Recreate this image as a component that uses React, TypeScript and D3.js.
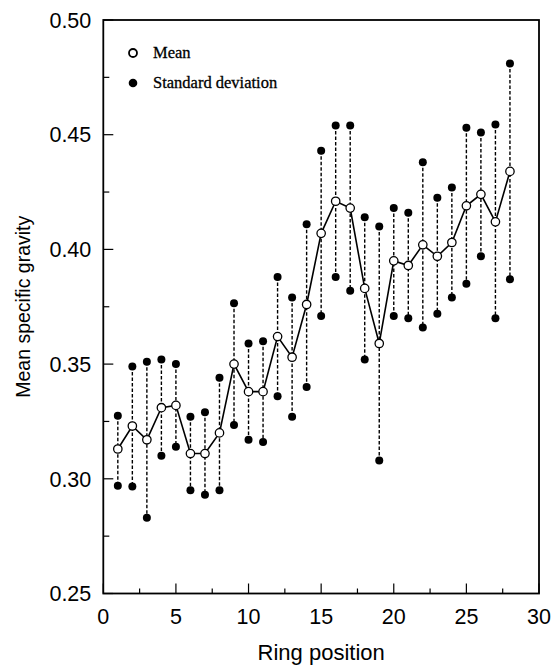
import React from "react";
import * as d3 from "d3";

const rings = [1,2,3,4,5,6,7,8,9,10,11,12,13,14,15,16,17,18,19,20,21,22,23,24,25,26,27,28];
const means = [0.313,0.323,0.317,0.331,0.332,0.311,0.311,0.320,0.350,0.338,0.338,0.362,0.353,0.376,0.407,0.421,0.418,0.383,0.359,0.395,0.393,0.402,0.397,0.403,0.419,0.424,0.412,0.434];
const uppers = [0.3275,0.349,0.351,0.352,0.350,0.327,0.329,0.344,0.3765,0.359,0.360,0.388,0.379,0.411,0.443,0.454,0.454,0.414,0.410,0.418,0.416,0.438,0.4225,0.427,0.453,0.451,0.4545,0.481];
const lowers = [0.297,0.2966,0.283,0.310,0.314,0.295,0.293,0.295,0.3235,0.317,0.316,0.336,0.327,0.340,0.371,0.388,0.382,0.352,0.308,0.371,0.370,0.366,0.372,0.379,0.385,0.397,0.370,0.387];
const yTicks = [0.25,0.30,0.35,0.40,0.45,0.50];
const xTicks = [0,5,10,15,20,25,30];

const W = 553, H = 666;
const left = 103.3, right = 539, top = 20, bottom = 593.5;

export default function App() {
  const x = d3.scaleLinear().domain([0, 30]).range([left, right]);
  const y = d3.scaleLinear().domain([0.25, 0.5]).range([bottom, top]);
  const line = d3.line<number>().x((_, i) => x(rings[i])).y((d) => y(d));
  const minorY = d3.range(0, 11).map((i) => 0.25 + i * 0.025);
  const minorX = d3.range(0, 13).map((i) => i * 2.5);
  const sans = "'Liberation Sans', Arial, Helvetica, sans-serif";
  const serif = "'Liberation Serif', 'Times New Roman', serif";
  return (
    <svg width={W} height={H} style={{ position: "absolute", left: 0, top: 0, background: "#fff" }}>
      <rect x={0} y={0} width={W} height={H} fill="#fff" />
      <rect x={left} y={top} width={right - left} height={bottom - top} fill="none" stroke="#000" strokeWidth={1.8} />
      {minorY.map((t, i) => {
        const major = i % 2 === 0;
        return <line key={"yt" + i} x1={left} x2={left + (major ? 10 : 6)} y1={y(t)} y2={y(t)} stroke="#000" strokeWidth={1.2} />;
      })}
      {minorX.map((t, i) => {
        const major = i % 2 === 0;
        return <line key={"xt" + i} x1={x(t)} x2={x(t)} y1={bottom} y2={bottom - (major ? 10 : 5)} stroke="#000" strokeWidth={1.2} />;
      })}
      {yTicks.map((t) => (
        <text key={"yl" + t} x={left - 12} y={y(t)} dy="0.36em" textAnchor="end" fontFamily={sans} fontSize={21.5} fill="#000">
          {t.toFixed(2)}
        </text>
      ))}
      {xTicks.map((t) => (
        <text key={"xl" + t} x={x(t)} y={623.5} textAnchor="middle" fontFamily={sans} fontSize={21.5} fill="#000">
          {t}
        </text>
      ))}
      <text x={x(15)} y={660} textAnchor="middle" fontFamily={sans} fontSize={22} fill="#000">Ring position</text>
      <text transform={`translate(30,${(top + bottom) / 2}) rotate(-90)`} x={0} y={0} textAnchor="middle" fontFamily={sans} fontSize={19.5} fill="#000">
        Mean specific gravity
      </text>
      {rings.map((r, i) => (
        <line key={"d" + r} x1={x(r)} x2={x(r)} y1={y(uppers[i])} y2={y(lowers[i])} stroke="#000" strokeWidth={1.4} strokeDasharray="3.5,2" />
      ))}
      <path d={line(means) || ""} fill="none" stroke="#000" strokeWidth={1.6} />
      {rings.map((r, i) => (
        <g key={"p" + r}>
          <circle cx={x(r)} cy={y(uppers[i])} r={4} fill="#000" />
          <circle cx={x(r)} cy={y(lowers[i])} r={4} fill="#000" />
          <circle cx={x(r)} cy={y(means[i])} r={4.2} fill="#fff" stroke="#000" strokeWidth={1.3} />
        </g>
      ))}
      <circle cx={133} cy={53} r={4} fill="#fff" stroke="#000" strokeWidth={1.8} />
      <circle cx={133} cy={83} r={4.3} fill="#000" />
      <text x={153} y={58} fontFamily={serif} fontSize={16.5} fill="#000" stroke="#000" strokeWidth={0.3}>Mean</text>
      <text x={153} y={88} fontFamily={serif} fontSize={16.5} fill="#000" stroke="#000" strokeWidth={0.3}>Standard deviation</text>
    </svg>
  );
}
